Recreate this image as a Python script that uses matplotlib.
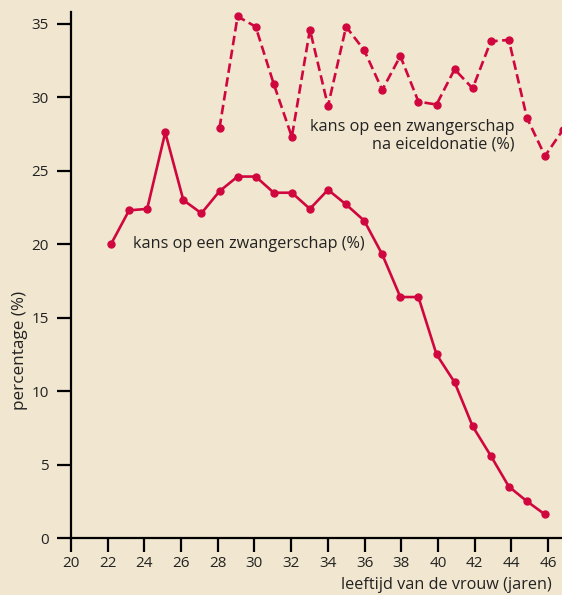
import matplotlib
matplotlib.use("Agg")
import matplotlib.pyplot as plt

ages_natural = list(range(22, 47))
pct_natural = [20.0, 22.3, 22.4, 27.6, 23.0, 22.1, 23.6, 24.6, 24.6, 23.5, 23.5, 22.4, 23.7,
               22.7, 21.6, 19.3, 16.4, 16.4, 12.5, 10.6, 7.6, 5.6, 3.5, 2.5, 1.6]

ages_donation = list(range(28, 48))
pct_donation = [27.9, 35.5, 34.8, 30.9, 27.3, 34.6, 29.4, 34.8, 33.2, 30.5, 32.8, 29.7,
                29.5, 31.9, 30.6, 33.8, 33.9, 28.6, 26.0, 27.8]

xticks = list(range(20, 47, 2))
yticks = [0, 5, 10, 15, 20, 25, 30, 35]

bg = "#f1e6cf"
red = "#d0073f"
txt = "#222222"
plt.rcParams['font.family'] = ['Open Sans', 'DejaVu Sans']
fs = 11.7

fig = plt.figure(figsize=(5.62, 5.95), dpi=100, facecolor=bg)
rect = [71/562, 57/595, 1 - 71/562, 526/595]
ax = fig.add_axes(rect, facecolor=bg)
axt = fig.add_axes(rect, facecolor='none', sharey=ax)

ax.plot(ages_natural, pct_natural, color=red, lw=1.9, marker='o', ms=5, clip_on=False)
ax.plot(ages_donation, pct_donation, color=red, lw=1.9, marker='o', ms=5,
        dashes=(3.6, 1.7), clip_on=True)

ax.set_xlim(19.788, 46.94)
ax.set_ylim(0, 35.8)
ax.set_xticks([])
ax.set_yticks(yticks)
ax.set_yticklabels([str(t) for t in yticks])

axt.set_xlim(20, 46.76)
axt.set_xticks(xticks)
axt.set_xticklabels([str(t) for t in xticks])
axt.tick_params(axis='y', left=False, labelleft=False)

for a in (ax, axt):
    for s in ['top', 'right']:
        a.spines[s].set_visible(False)
ax.spines['bottom'].set_visible(False)
axt.spines['left'].set_visible(False)
ax.spines['left'].set_linewidth(1.6)
axt.spines['bottom'].set_linewidth(1.6)
ax.spines['left'].set_color('black')
axt.spines['bottom'].set_color('black')

ax.tick_params(axis='y', direction='out', length=10, width=1.6, color='black',
               labelsize=11, labelcolor=txt, pad=6)
axt.tick_params(axis='x', direction='out', length=10, width=1.6, color='black',
                labelsize=11, labelcolor=txt, pad=3)

ax.text(23.2, 20.0, "kans op een zwangerschap (%)", fontsize=fs, color=txt,
        ha='left', va='center')
ax.text(44.3, 27.4, "kans op een zwangerschap\nna eiceldonatie (%)", fontsize=fs,
        color=txt, ha='right', va='center', multialignment='right', linespacing=1.1)

fig.text(552/562, 1 - 585/595, "leeftijd van de vrouw (jaren)", fontsize=fs,
         color=txt, ha='right', va='center')
fig.text(20/562, 1 - 350/595, "percentage (%)", fontsize=12.3, color=txt,
         rotation=90, ha='center', va='center')

fig.savefig("out.png", dpi=100, facecolor=bg)
